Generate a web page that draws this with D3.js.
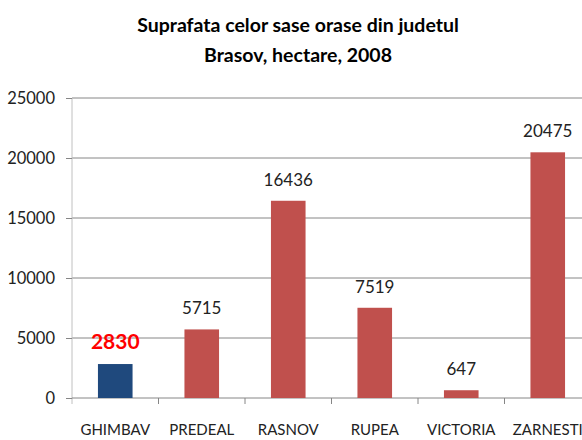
<!DOCTYPE html>
<html>
<head>
<meta charset="utf-8">
<script src="https://cdn.jsdelivr.net/npm/d3@7"></script>
<style>
  body { margin: 0; background: #fff; }
  svg { display: block; }
</style>
</head>
<body>
<div id="chart"></div>
<script>
// chart data
var cities = ["GHIMBAV", "PREDEAL", "RASNOV", "RUPEA", "VICTORIA", "ZARNESTI"];
var areas = [2830, 5715, 16436, 7519, 647, 20475];
var yTicks = [0, 5000, 10000, 15000, 20000, 25000];
var titleLines = ["Suprafata celor sase orase din judetul", "Brasov, hectare, 2008"];

var W = 582, H = 440;
var margin = { top: 98, right: -9, bottom: 42, left: 72 },
    width = W - margin.left - margin.right,
    height = H - margin.top - margin.bottom;

var font = "Lato, 'Open Sans', sans-serif";

var svg = d3.select("#chart")
    .append("svg")
    .attr("width", W)
    .attr("height", H);

// title
svg.append("g").selectAll("text")
    .data(titleLines)
    .enter()
    .append("text")
    .attr("x", 298)
    .attr("y", function (d, i) { return 32 + i * 30; })
    .attr("text-anchor", "middle")
    .style("font-family", font)
    .style("font-weight", "bold")
    .style("font-size", "19.5px")
    .style("fill", "#000")
    .text(function (d) { return d; });

var g = svg.append("g")
    .attr("transform", "translate(" + margin.left + "," + margin.top + ")");

var x = d3.scaleBand()
    .domain(cities)
    .range([0, width])
    .paddingInner(0.6)
    .paddingOuter(0.3);

var y = d3.scaleLinear()
    .domain([0, 25000])
    .range([height, 0]);

// gridlines
g.selectAll(".grid")
    .data(yTicks.slice(1))
    .enter()
    .append("line")
    .attr("class", "grid")
    .attr("x1", 0)
    .attr("x2", width)
    .attr("y1", function (d) { return y(d); })
    .attr("y2", function (d) { return y(d); })
    .style("stroke", "#868686")
    .style("stroke-width", 1);

// y axis
var yAxis = g.append("g")
    .call(d3.axisLeft(y).tickValues(yTicks).tickSize(6).tickPadding(11).tickFormat(d3.format("d")));
yAxis.select(".domain").attr("stroke", "#c0c0c0").attr("d", "M0,0V" + (height + 6));
yAxis.selectAll(".tick line").attr("stroke", "#868686");
yAxis.selectAll("text")
    .style("font-family", font)
    .style("font-size", "16.5px")
    .style("fill", "#222");

// x axis
var xAxis = g.append("g")
    .attr("transform", "translate(0," + height + ")")
    .call(d3.axisBottom(x).tickSize(0).tickPadding(26));
xAxis.select(".domain").attr("stroke", "#868686").attr("d", "M0,0H" + width);
xAxis.selectAll("text")
    .style("font-family", font)
    .style("font-size", "15px")
    .style("fill", "#222");

// category separator ticks
var step = x.step();
g.selectAll(".sep")
    .data(cities)
    .enter()
    .append("line")
    .attr("class", "sep")
    .attr("x1", function (d) { return x(d) + x.bandwidth() / 2 + step / 2; })
    .attr("x2", function (d) { return x(d) + x.bandwidth() / 2 + step / 2; })
    .attr("y1", height)
    .attr("y2", height + 6)
    .style("stroke", "#868686");

// bars
g.selectAll(".bar")
    .data(areas)
    .enter()
    .append("rect")
    .attr("class", "bar")
    .attr("x", function (d, i) { return x(cities[i]); })
    .attr("width", x.bandwidth())
    .attr("y", function (d) { return y(d); })
    .attr("height", function (d) { return height - y(d); })
    .style("fill", function (d, i) { return i === 0 ? "#1f497d" : "#c0504d"; });

// value labels
g.selectAll(".val")
    .data(areas)
    .enter()
    .append("text")
    .attr("class", "val")
    .attr("x", function (d, i) { return x(cities[i]) + x.bandwidth() / 2; })
    .attr("y", function (d) { return y(d) - 15; })
    .attr("text-anchor", "middle")
    .style("font-family", font)
    .style("font-size", function (d, i) { return i === 0 ? "21px" : "17px"; })
    .style("font-weight", function (d, i) { return i === 0 ? "bold" : "normal"; })
    .style("fill", function (d, i) { return i === 0 ? "#ff0000" : "#222"; })
    .text(function (d) { return d; });
</script>
</body>
</html>
